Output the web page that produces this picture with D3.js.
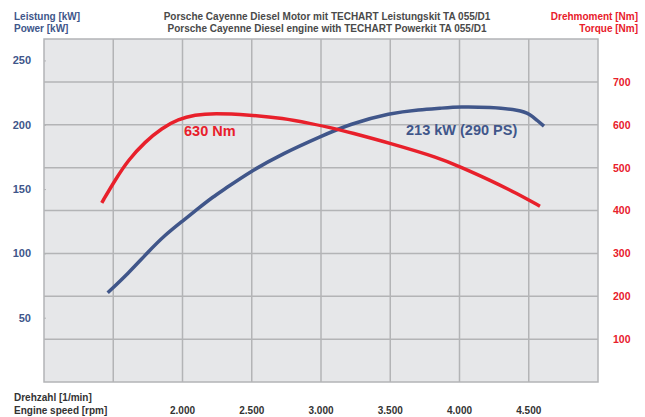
<!DOCTYPE html>
<html>
<head>
<meta charset="utf-8">
<script src="https://cdn.jsdelivr.net/npm/d3@7"></script>
<style>
  body { margin: 0; background: #fff; }
  text { font-family: "Liberation Sans", Arial, sans-serif; font-weight: bold; }
</style>
</head>
<body>
<div id="chart"></div>
<script>
const width = 645, height = 417;

// power curve (kW) vs engine speed
const powerRpm = [1460, 1609, 1753, 1874, 1994, 2114, 2222, 2295, 2487, 2728, 2993, 3209, 3498, 3715, 3859, 4004, 4220, 4437, 4509, 4557, 4610];
const powerKw = [69.4, 84.5, 101.3, 114.3, 124.6, 135.0, 144.1, 149.3, 163.5, 177.8, 190.7, 200.6, 209.1, 211.8, 212.8, 214.0, 213.6, 211.5, 208.1, 203.7, 199.0];

// torque curve (Nm)
const torqueRpm = [1417, 1513, 1609, 1729, 1850, 1970, 2090, 2222, 2487, 2728, 2921, 3089, 3209, 3498, 3859, 4004, 4220, 4413, 4581];
const torqueNm = [418, 471, 518, 560, 592, 613, 623, 627, 623, 615, 603, 592, 582, 557, 522, 502, 471, 440, 410];

const rpmTicks = [2000, 2500, 3000, 3500, 4000, 4500];
const rpmGrid = [1500, 2000, 2500, 3000, 3500, 4000, 4500];
const kwTicks = [50, 100, 150, 200, 250];
const nmTicks = [100, 200, 300, 400, 500, 600, 700];

const blue = "#40568a", red = "#e8202b";

const svg = d3.select("#chart").append("svg")
  .attr("width", width).attr("height", height);

const x = d3.scaleLinear().domain([1000, 5000]).range([44, 598]);
const yKw = d3.scaleLinear().domain([0, 800 / 3]).range([382, 39]);
const yNm = d3.scaleLinear().domain([0, 800]).range([382, 39]);

// background
svg.append("rect")
  .attr("x", x(1000)).attr("y", yNm(800))
  .attr("width", x(5000) - x(1000)).attr("height", yNm(0) - yNm(800))
  .attr("fill", "#e6e7e9")
  .attr("stroke", "#b3b4b6").attr("stroke-width", 1.5);

svg.append("g").selectAll("line")
  .data(rpmGrid).enter().append("line")
  .attr("x1", d => x(d)).attr("x2", d => x(d))
  .attr("y1", yNm(800)).attr("y2", yNm(0))
  .attr("stroke", "#b3b4b6").attr("stroke-width", 1.5);

svg.append("g").selectAll("line")
  .data(nmTicks).enter().append("line")
  .attr("x1", x(1000)).attr("x2", x(5000))
  .attr("y1", d => yNm(d)).attr("y2", d => yNm(d))
  .attr("stroke", "#b3b4b6").attr("stroke-width", 1.5);

// left axis
const leftAxis = svg.append("g")
  .attr("transform", "translate(" + x(1000) + ",0)")
  .call(d3.axisLeft(yKw).tickValues(kwTicks).tickSize(-2).tickPadding(13));
leftAxis.select(".domain").remove();
leftAxis.selectAll("line").attr("stroke", "#b3b4b6");
leftAxis.selectAll("text")
  .attr("fill", blue).style("font-size", "11px").style("font-weight", "bold")
  .attr("font-family", null);

// right axis
const rightAxis = svg.append("g")
  .attr("transform", "translate(" + x(5000) + ",0)")
  .call(d3.axisRight(yNm).tickValues(nmTicks).tickSize(0).tickPadding(15));
rightAxis.select(".domain").remove();
rightAxis.selectAll("text")
  .attr("fill", red).style("font-size", "10.5px").style("font-weight", "bold")
  .attr("font-family", null);

// bottom labels
svg.append("g").selectAll("text")
  .data(rpmTicks).enter().append("text")
  .attr("x", d => x(d)).attr("y", 414)
  .attr("text-anchor", "middle")
  .attr("fill", "#333").style("font-size", "10px")
  .text(d => d3.format(",")(d).replace(",", "."));

svg.append("text").attr("x", 14).attr("y", 401)
  .attr("fill", "#333").style("font-size", "10px").text("Drehzahl [1/min]");
svg.append("text").attr("x", 14).attr("y", 414)
  .attr("fill", "#333").style("font-size", "10px").text("Engine speed [rpm]");

// header texts
svg.append("text").attr("x", 14).attr("y", 20)
  .attr("fill", blue).style("font-size", "10px").text("Leistung [kW]");
svg.append("text").attr("x", 14).attr("y", 32)
  .attr("fill", blue).style("font-size", "10px").text("Power [kW]");

svg.append("text").attr("x", 638).attr("y", 20).attr("text-anchor", "end")
  .attr("fill", red).style("font-size", "10px").text("Drehmoment [Nm]");
svg.append("text").attr("x", 638).attr("y", 32).attr("text-anchor", "end")
  .attr("fill", red).style("font-size", "10px").text("Torque [Nm]");

svg.append("text").attr("x", 327).attr("y", 20).attr("text-anchor", "middle")
  .attr("fill", "#4a4a4a").style("font-size", "10px")
  .text("Porsche Cayenne Diesel Motor mit TECHART Leistungskit TA 055/D1");
svg.append("text").attr("x", 327).attr("y", 32).attr("text-anchor", "middle")
  .attr("fill", "#4a4a4a").style("font-size", "10px")
  .text("Porsche Cayenne Diesel engine with TECHART Powerkit TA 055/D1");

// curves - basis smooths out the reading noise
const powerLine = d3.line()
  .x((d, i) => x(powerRpm[i]))
  .y(d => yKw(d))
  .curve(d3.curveBasis);

const torqueLine = d3.line()
  .x((d, i) => x(torqueRpm[i]))
  .y(d => yNm(d))
  .curve(d3.curveBasis);

svg.append("path").datum(powerKw)
  .attr("d", powerLine)
  .attr("fill", "none").attr("stroke", blue).attr("stroke-width", 3.5);

svg.append("path").datum(torqueNm)
  .attr("d", torqueLine)
  .attr("fill", "none").attr("stroke", red).attr("stroke-width", 3.5);

// annotations
svg.append("text").attr("x", 184).attr("y", 135.5)
  .attr("fill", red).style("font-size", "14.5px").text("630 Nm");
svg.append("text").attr("x", 406).attr("y", 135)
  .attr("fill", blue).style("font-size", "14.5px").text("213 kW (290 PS)");
</script>
</body>
</html>
